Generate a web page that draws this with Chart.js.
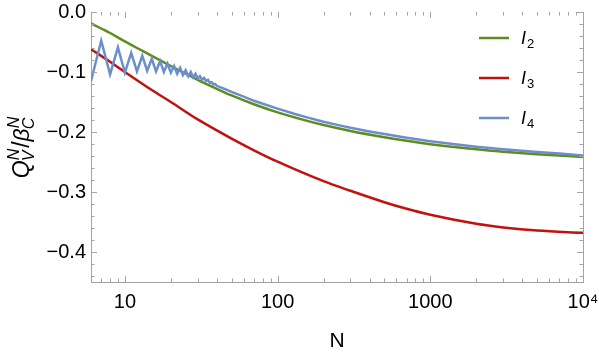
<!DOCTYPE html>
<html lang="en">
<head>
<meta charset="UTF-8" />
<title>Q_V^N / beta_C^N against N</title>
<style>
  body { margin: 0; background: #fff; }
  #wrap { width: 599px; height: 352px; position: relative; }
</style>
</head>
<body>
<div id="wrap"><canvas id="chart"></canvas></div>

<script src="https://cdn.jsdelivr.net/npm/chart.js"></script>
<script>
  // legend text: italic I with a subscript
  const seriesMain = "I";
  const seriesSub = ["2", "3", "4"];
  const seriesColors = ["#5e8c20", "#c0120f", "#6b8fca"];

  // I2
  const nI2 = [6, 7, 8, 10, 12, 15, 20, 30, 40, 50, 70, 100, 200, 300, 500, 700, 1000, 2000, 3000, 5000, 10000];
  const valI2 = [-0.019, -0.0275, -0.035, -0.049, -0.060, -0.073, -0.090, -0.113, -0.128, -0.139, -0.1537, -0.1672,
                 -0.1884, -0.1983, -0.2087, -0.2147, -0.2203, -0.2289, -0.2329, -0.2371, -0.2417];

  // I3
  const nI3 = [6, 8, 10, 15, 20, 30, 50, 70, 100, 200, 300, 500, 700, 1000, 2000, 3000, 5000, 10000];
  const valI3 = [-0.062, -0.083, -0.100, -0.130, -0.150, -0.179, -0.211, -0.2305, -0.2495, -0.282, -0.298, -0.317,
                 -0.328, -0.338, -0.353, -0.359, -0.3643, -0.368];

  // I4 zig-zags between odd and even N, then runs just above I2
  const nI4 = [6, 7, 8, 9, 10, 11, 12, 13, 14, 15, 16, 17, 18, 19, 20, 21, 22, 23, 24, 25, 26, 27, 28, 29, 30,
               31, 32, 33, 34, 35, 36, 37, 38, 39, 40, 45, 50, 60, 70, 80, 100, 130, 160, 200, 250, 300, 400,
               500, 700, 1000, 1500, 2000, 3000, 5000, 7000, 10000];
  const valI4 = [-0.115, -0.048, -0.104, -0.059, -0.101, -0.068, -0.099, -0.073, -0.098, -0.078, -0.099, -0.082,
                 -0.100, -0.086, -0.101, -0.090, -0.103, -0.093, -0.105, -0.097, -0.107, -0.100, -0.109, -0.103,
                 -0.111, -0.107, -0.113, -0.110, -0.115, -0.113, -0.118, -0.117, -0.121, -0.120, -0.123,
                 -0.128, -0.133, -0.141, -0.148, -0.153, -0.161, -0.170, -0.1765, -0.183, -0.1885, -0.193, -0.199,
                 -0.2035, -0.2095, -0.2153, -0.221, -0.2245, -0.2288, -0.2335, -0.236, -0.239];

  // axis ticks
  const xTickValues = [10, 100, 1000, 10000];
  const xTickLabels = ["10", "100", "1000", "10\u2074"];
  const yTickValues = [-0.4, -0.3, -0.2, -0.1, 0];
  const yTickLabels = ["\u22120.4", "\u22120.3", "\u22120.2", "\u22120.1", "0.0"];

  const frameColor = "#a3a3a3";
  const fontFamily = '"Liberation Sans", Arial, sans-serif';

  function toPoints(ns, vals) {
    return ns.map((n, i) => ({ x: n, y: vals[i] }));
  }

  // ticks pointing inwards on all four sides, plus the right edge of the frame
  const framePlugin = {
    id: "frame",
    afterDraw(chart) {
      const { ctx, chartArea: a, scales: { x, y } } = chart;
      ctx.save();
      ctx.strokeStyle = frameColor;
      ctx.lineWidth = 1;
      const seg = (x1, y1, x2, y2) => { ctx.beginPath(); ctx.moveTo(x1, y1); ctx.lineTo(x2, y2); ctx.stroke(); };

      seg(a.right + 0.5, a.top, a.right + 0.5, a.bottom);

      for (let k = -22; k <= 0; k++) {
        const py = Math.round(y.getPixelForValue(k * 0.02)) + 0.5;
        const len = (k % 5 === 0) ? 6 : 3.5;
        seg(a.left, py, a.left + len, py);
        seg(a.right, py, a.right - len, py);
      }
      for (let d = 0; d <= 4; d++) {
        for (let m = 1; m <= 9; m++) {
          const v = m * Math.pow(10, d);
          if (v <= 6 || v > 10000) continue;
          const px = Math.round(x.getPixelForValue(v)) + 0.5;
          const len = (m === 1) ? 6 : 3.5;
          seg(px, a.bottom, px, a.bottom - len);
          seg(px, a.top, px, a.top + len);
        }
      }
      ctx.restore();
    }
  };

  // legend and y title need sub/superscripts, so draw them by hand
  const textPlugin = {
    id: "mathText",
    afterDraw(chart) {
      const { ctx, chartArea: a } = chart;
      ctx.save();
      ctx.fillStyle = "#000";
      ctx.textBaseline = "alphabetic";

      // legend
      chart.data.datasets.forEach((ds, i) => {
        const rowY = a.top + 26 + i * 40;
        ctx.strokeStyle = ds.borderColor;
        ctx.lineWidth = 2.5;
        ctx.beginPath();
        ctx.moveTo(a.right - 104, rowY);
        ctx.lineTo(a.right - 74, rowY);
        ctx.stroke();
        ctx.font = "italic 18px " + fontFamily;
        ctx.fillText(seriesMain, a.right - 62, rowY + 6);
        const w = ctx.measureText(seriesMain).width;
        ctx.font = "13px " + fontFamily;
        ctx.fillText(seriesSub[i], a.right - 62 + w + 1, rowY + 10);
      });

      // y title: Q_V^N / beta_C^N, rotated
      const big = "italic 23px " + fontFamily;
      const small = "italic 16px " + fontFamily;
      const upright = "23px " + fontFamily;
      const parts = [
        { t: "Q", f: big },
        { sup: "N", sub: "V" },
        { t: "/", f: upright },
        { t: "\u03b2", f: big },
        { sup: "N", sub: "C" }
      ];
      let total = 0;
      parts.forEach(p => {
        if (p.t) { ctx.font = p.f; p.w = ctx.measureText(p.t).width; }
        else { ctx.font = small; p.w = Math.max(ctx.measureText(p.sup).width, ctx.measureText(p.sub).width) + 1; }
        total += p.w;
      });
      ctx.translate(29, (a.top + a.bottom) / 2);
      ctx.rotate(-Math.PI / 2);
      let cx = -total / 2;
      parts.forEach(p => {
        if (p.t) { ctx.font = p.f; ctx.fillText(p.t, cx, 0); }
        else {
          ctx.font = small;
          ctx.fillText(p.sup, cx, -10);
          ctx.fillText(p.sub, cx - 1, 5);
        }
        cx += p.w;
      });
      ctx.restore();
    }
  };

  const datasets = [
    { label: "I2", data: toPoints(nI2, valI2), borderColor: seriesColors[0], cubicInterpolationMode: "monotone", order: 3 },
    { label: "I3", data: toPoints(nI3, valI3), borderColor: seriesColors[1], cubicInterpolationMode: "monotone", order: 2 },
    { label: "I4", data: toPoints(nI4, valI4), borderColor: seriesColors[2], tension: 0, order: 1 }
  ].map(ds => Object.assign(ds, { borderWidth: 2.5, pointRadius: 0, fill: false }));

  new Chart(document.getElementById("chart"), {
    type: "line",
    data: { datasets: datasets },
    options: {
      responsive: true,
      maintainAspectRatio: false,
      animation: false,
      devicePixelRatio: 1,
      layout: { padding: { left: 0, right: 16, top: 12, bottom: 0 } },
      plugins: { legend: { display: false }, tooltip: { enabled: false } },
      scales: {
        x: {
          type: "logarithmic",
          min: 6,
          max: 10000,
          grid: { display: false, drawTicks: false },
          border: { display: true, color: frameColor, width: 1 },
          afterBuildTicks: s => { s.ticks = xTickValues.map(v => ({ value: v })); },
          afterFit: s => { s.height = 70; s.paddingLeft = 0; s.paddingRight = 0; },
          ticks: {
            autoSkip: false,
            maxRotation: 0,
            padding: 8,
            color: "#000",
            font: { family: fontFamily, size: 20 },
            callback: (v, i) => xTickLabels[i]
          },
          title: {
            display: true,
            text: "N",
            color: "#000",
            font: { family: fontFamily, size: 21, lineHeight: 1 },
            padding: { top: 0, bottom: 0 }
          }
        },
        y: {
          min: -0.45,
          max: 0,
          grid: { display: false, drawTicks: false },
          border: { display: true, color: frameColor, width: 1 },
          afterBuildTicks: s => { s.ticks = yTickValues.map(v => ({ value: v })); },
          afterFit: s => { s.width = 91; s.paddingTop = 0; s.paddingBottom = 0; },
          ticks: {
            padding: 5,
            color: "#000",
            font: { family: fontFamily, size: 20 },
            callback: (v, i) => yTickLabels[i]
          }
        }
      }
    },
    plugins: [framePlugin, textPlugin]
  });
</script>
</body>
</html>
